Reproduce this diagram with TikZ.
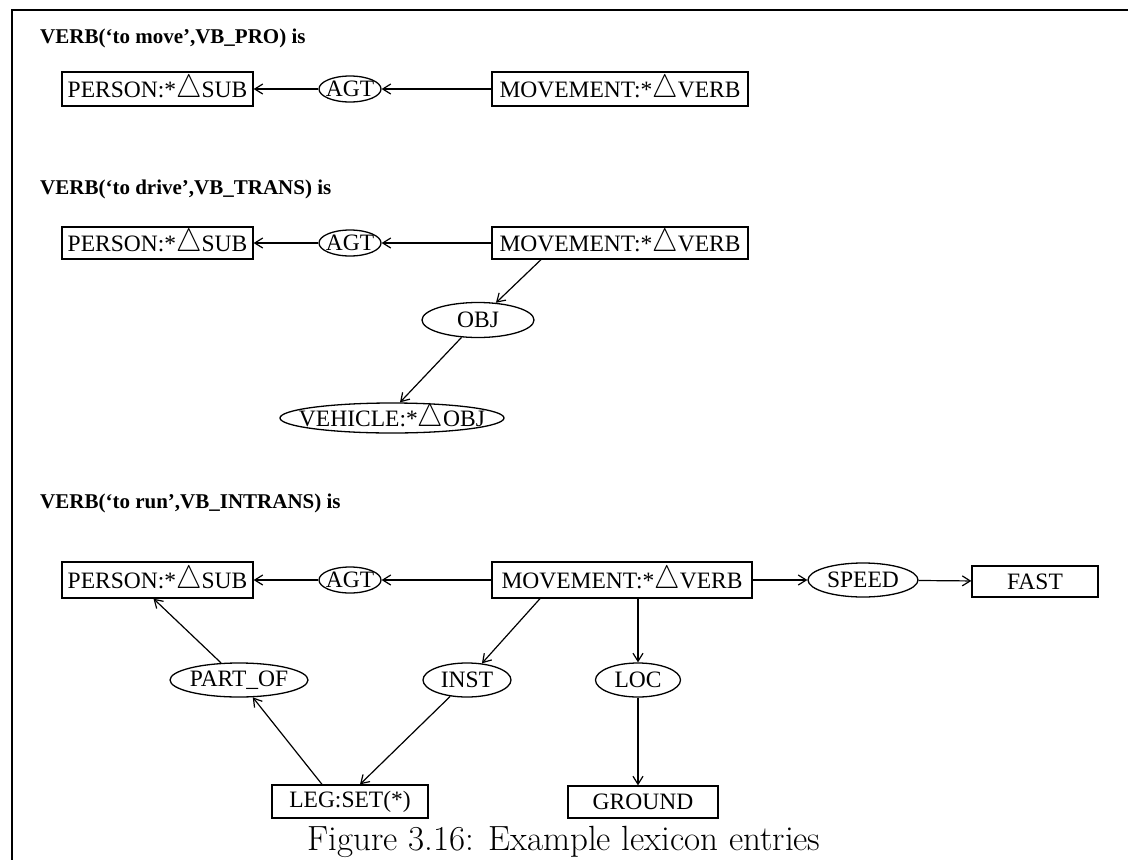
\documentclass[tikz,border=0pt]{standalone}
\usepackage{fontspec}
\newfontfamily\tms{Liberation Serif}
\usetikzlibrary{shapes.geometric,arrows.meta}
\newcommand{\tri}{\raisebox{0.5pt}{\scalebox{1.15}[1.3]{$\triangle$}}}
\tikzset{
  box/.style={draw, line width=1.3pt, rectangle, inner sep=0pt, font=\tms\fontsize{23.5}{23.5}\selectfont},
  ell/.style={draw, line width=1.3pt, ellipse, inner sep=0pt},
  lab/.style={font=\tms\fontsize{23.5}{23.5}\selectfont, inner sep=0pt},
  arr/.style={-{Straight Barb[length=8pt,width=10pt]}, line width=1.2pt},
  ttl/.style={anchor=west, font=\tms\bfseries\fontsize{21}{21}\selectfont, inner sep=0pt},
  frame/.style={line width=1.6pt}
}
\begin{document}
\begin{tikzpicture}[x=1pt,y=-1pt]
\useasboundingbox (0,0) rectangle (1128,860);
\draw[frame] (12,860) -- (12,10) -- (1128,10);

% section 1
\node[ttl] (t1) at (40,38) {VERB(‘to move’,VB\_PRO) is};
\node[box, minimum width=191pt, minimum height=34pt] (p1) at (157.5,89) {PERSON:*\tri SUB};
\node[ell, minimum width=62pt, minimum height=26pt, label={[lab]center:AGT}] (agt1) at (350,89) {};
\node[box, minimum width=256pt, minimum height=34pt] (mv1) at (620,89) {MOVEMENT:*\tri VERB};
\draw[arr] (mv1) -- (agt1);
\draw[arr] (agt1) -- (p1);

% section 2
\node[ttl] (t2) at (40,189) {VERB(‘to drive’,VB\_TRANS) is};
\node[box, minimum width=191pt, minimum height=32pt] (p2) at (157.5,243) {PERSON:*\tri SUB};
\node[ell, minimum width=62pt, minimum height=26pt, label={[lab]center:AGT}] (agt2) at (350,243) {};
\node[box, minimum width=256pt, minimum height=32pt] (mv2) at (620,243) {MOVEMENT:*\tri VERB};
\node[ell, minimum width=112pt, minimum height=35pt, label={[lab]center:OBJ}] (obj2) at (478,320) {};
\node[ell, minimum width=224pt, minimum height=30pt, label={[lab]center:VEHICLE:*\tri OBJ}] (veh2) at (392,418) {};
\draw[arr] (mv2) -- (agt2);
\draw[arr] (agt2) -- (p2);
\draw[arr] ([xshift=-79pt]mv2.south) -- (obj2);
\draw[arr] (obj2) -- ([xshift=8pt]veh2.north);

% section 3
\node[ttl] (t3) at (40,503) {VERB(‘to run’,VB\_INTRANS) is};
\node[box, minimum width=191pt, minimum height=36pt] (p3) at (157.5,580) {PERSON:*\tri SUB};
\node[ell, minimum width=62pt, minimum height=26pt, label={[lab]center:AGT}] (agt3) at (350,580) {};
\node[box, minimum width=260pt, minimum height=36pt] (mv3) at (622,580) {MOVEMENT:*\tri VERB};
\node[ell, minimum width=110pt, minimum height=34pt, label={[lab]center:SPEED}] (spd3) at (863,580) {};
\node[box, minimum width=126pt, minimum height=31pt] (fast3) at (1035,581.5) {FAST};
\node[ell, minimum width=138pt, minimum height=34pt, label={[lab]center:PART\_OF}] (po3) at (239,680) {};
\node[ell, minimum width=88pt, minimum height=34pt, label={[lab]center:INST}] (inst3) at (467,680) {};
\node[ell, minimum width=85pt, minimum height=34pt, label={[lab]center:LOC}] (loc3) at (638,680) {};
\node[box, minimum width=156pt, minimum height=33pt] (leg3) at (350,801.5) {LEG:SET(*)};
\node[box, minimum width=150pt, minimum height=32pt] (gr3) at (643,802) {GROUND};
\draw[arr] (mv3) -- (agt3);
\draw[arr] (agt3) -- (p3);
\draw[arr] (mv3) -- (spd3);
\draw[arr] (spd3) -- (fast3);
\draw[arr] ([xshift=-82pt]mv3.south) -- (inst3);
\draw[arr] (mv3.south -| loc3.north) -- (loc3.north);
\draw[arr] (loc3.south) -- (loc3.south |- gr3.north);
\draw[arr] (inst3) -- ([xshift=10pt]leg3.north);
\draw[arr] ([xshift=-28pt]leg3.north) -- (po3);
\draw[arr] (po3) -- ([xshift=-4pt]p3.south);

% caption
\node[anchor=base, font=\fontsize{35}{35}\selectfont, inner sep=0pt] (cap) at (564,850) {Figure 3.16: Example lexicon entries};
\end{tikzpicture}
\end{document}
